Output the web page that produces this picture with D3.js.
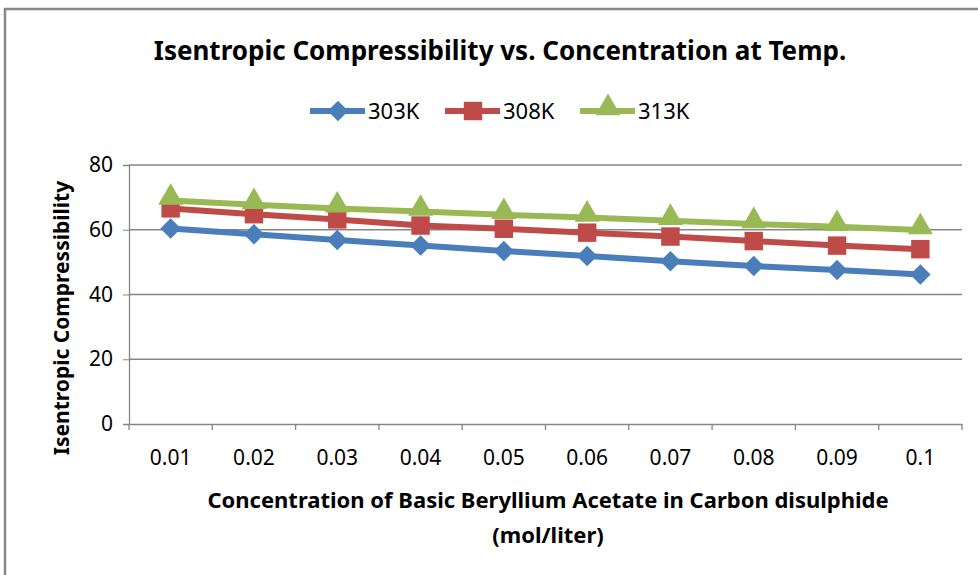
<html>
<head>
  <meta charset="utf-8">
  <title>Isentropic Compressibility</title>
  <script src="https://d3js.org/d3.v7.min.js"></script>
  <style>
    body { margin: 0; background: #fff; }
    text { font-family: "Noto Sans", "Open Sans", sans-serif; fill: #000; }
  </style>
</head>
<body>
<div id="container"></div>
<script>
  // data
  const categories = ["0.01","0.02","0.03","0.04","0.05","0.06","0.07","0.08","0.09","0.1"];
  const seriesNames = ["303K", "308K", "313K"];
  const k303 = [60.4, 58.6, 56.8, 55.1, 53.4, 51.9, 50.3, 48.8, 47.6, 46.2];
  const k308 = [66.6, 64.8, 63.2, 61.3, 60.3, 59.1, 57.9, 56.5, 55.1, 54.0];
  const k313 = [69.0, 67.7, 66.6, 65.6, 64.6, 63.8, 62.8, 61.8, 60.9, 59.9];
  const yTicks = [0, 20, 40, 60, 80];

  const width = 978, height = 575;
  const margin = {top: 165, right: 16, bottom: 151, left: 129};
  const colors = ["#4a7ebb", "#be4b48", "#98b954"];
  const shapes = [d3.symbolSquare, d3.symbolSquare, d3.symbolTriangle];
  const sizes = [210, 340, 270];
  const rotations = [45, 0, 0];
  const allSeries = [k303, k308, k313];

  const svg = d3.select("#container").append("svg")
    .attr("width", width).attr("height", height);

  // outer frame
  svg.append("rect")
    .attr("x", 5).attr("y", 9)
    .attr("width", width + 10).attr("height", height + 10)
    .style("fill", "none").style("stroke", "#888").style("stroke-width", 2.5);

  const x = d3.scaleBand().domain(categories)
    .range([margin.left, width - margin.right]);
  const y = d3.scaleLinear().domain([0, 80])
    .range([height - margin.bottom, margin.top]);

  // gridlines
  svg.append("g").selectAll("line").data(yTicks.slice(1)).join("line")
    .attr("x1", margin.left).attr("x2", width - margin.right)
    .attr("y1", d => y(d)).attr("y2", d => y(d))
    .style("stroke", "#868686").style("stroke-width", 1.3);

  // y axis
  const yAxis = svg.append("g")
    .attr("transform", `translate(${margin.left},0)`)
    .call(d3.axisLeft(y).tickValues(yTicks).tickSize(6).tickPadding(10));
  yAxis.select(".domain").style("stroke", "#868686").style("stroke-width", 1.3);
  yAxis.selectAll(".tick line").style("stroke", "#868686");
  yAxis.selectAll("text").style("font-size", "21px").style("font-family", "Noto Sans");

  // x axis, ticks at category boundaries
  const xAxis = svg.append("g")
    .attr("transform", `translate(0,${y(0)})`)
    .call(d3.axisBottom(x).tickSize(0).tickPadding(26));
  xAxis.select(".domain").style("stroke", "#868686").style("stroke-width", 1.3);
  xAxis.selectAll("text").style("font-size", "21px").style("font-family", "Noto Sans");
  svg.append("g").selectAll("line")
    .data(categories.map(c => x(c)).concat([x.range()[1]])).join("line")
    .attr("x1", d => d).attr("x2", d => d)
    .attr("y1", y(0)).attr("y2", y(0) + 6)
    .style("stroke", "#868686").style("stroke-width", 1.3);

  const marker = (s) => d3.symbol().type(shapes[s]).size(sizes[s]);
  const markerShift = (s) => (s === 2 ? -3 : 0);

  // lines and markers
  const line = d3.line()
    .x((d, i) => x(categories[i]) + x.bandwidth() / 2)
    .y(d => y(d));
  allSeries.forEach((vals, s) => {
    svg.append("path").datum(vals)
      .attr("d", line)
      .style("fill", "none").style("stroke", colors[s])
      .style("stroke-width", 6).style("stroke-linejoin", "round");
    svg.append("g").selectAll("path").data(vals).join("path")
      .attr("transform", (d, i) =>
        `translate(${x(categories[i]) + x.bandwidth() / 2},${y(d) + markerShift(s)}) rotate(${rotations[s]})`)
      .attr("d", marker(s))
      .style("fill", colors[s]);
  });

  // title
  svg.append("text")
    .attr("x", 500).attr("y", 60)
    .attr("text-anchor", "middle")
    .style("font-size", "26px").style("font-weight", "bold")
    .text("Isentropic Compressibility vs. Concentration at Temp.");

  // legend
  const legendX = [310, 445, 580];
  seriesNames.forEach((name, s) => {
    const g = svg.append("g").attr("transform", `translate(${legendX[s]},111)`);
    g.append("line").attr("x1", 0).attr("x2", 55)
      .style("stroke", colors[s]).style("stroke-width", 6);
    g.append("path")
      .attr("transform", `translate(28,${markerShift(s)}) rotate(${rotations[s]})`)
      .attr("d", marker(s))
      .style("fill", colors[s]);
    g.append("text").attr("x", 58).attr("y", 8)
      .style("font-size", "22px").text(name);
  });

  // axis titles
  svg.append("text")
    .attr("transform", "translate(69,318) rotate(-90)")
    .attr("text-anchor", "middle")
    .style("font-size", "21px").style("font-weight", "bold")
    .text("Isentropic Compressibility");
  svg.append("text")
    .attr("x", 548).attr("y", 508)
    .attr("text-anchor", "middle")
    .style("font-size", "22px").style("font-weight", "bold")
    .text("Concentration of Basic Beryllium Acetate in Carbon disulphide");
  svg.append("text")
    .attr("x", 548).attr("y", 543)
    .attr("text-anchor", "middle")
    .style("font-size", "22px").style("font-weight", "bold")
    .text("(mol/liter)");
</script>
</body>
</html>
